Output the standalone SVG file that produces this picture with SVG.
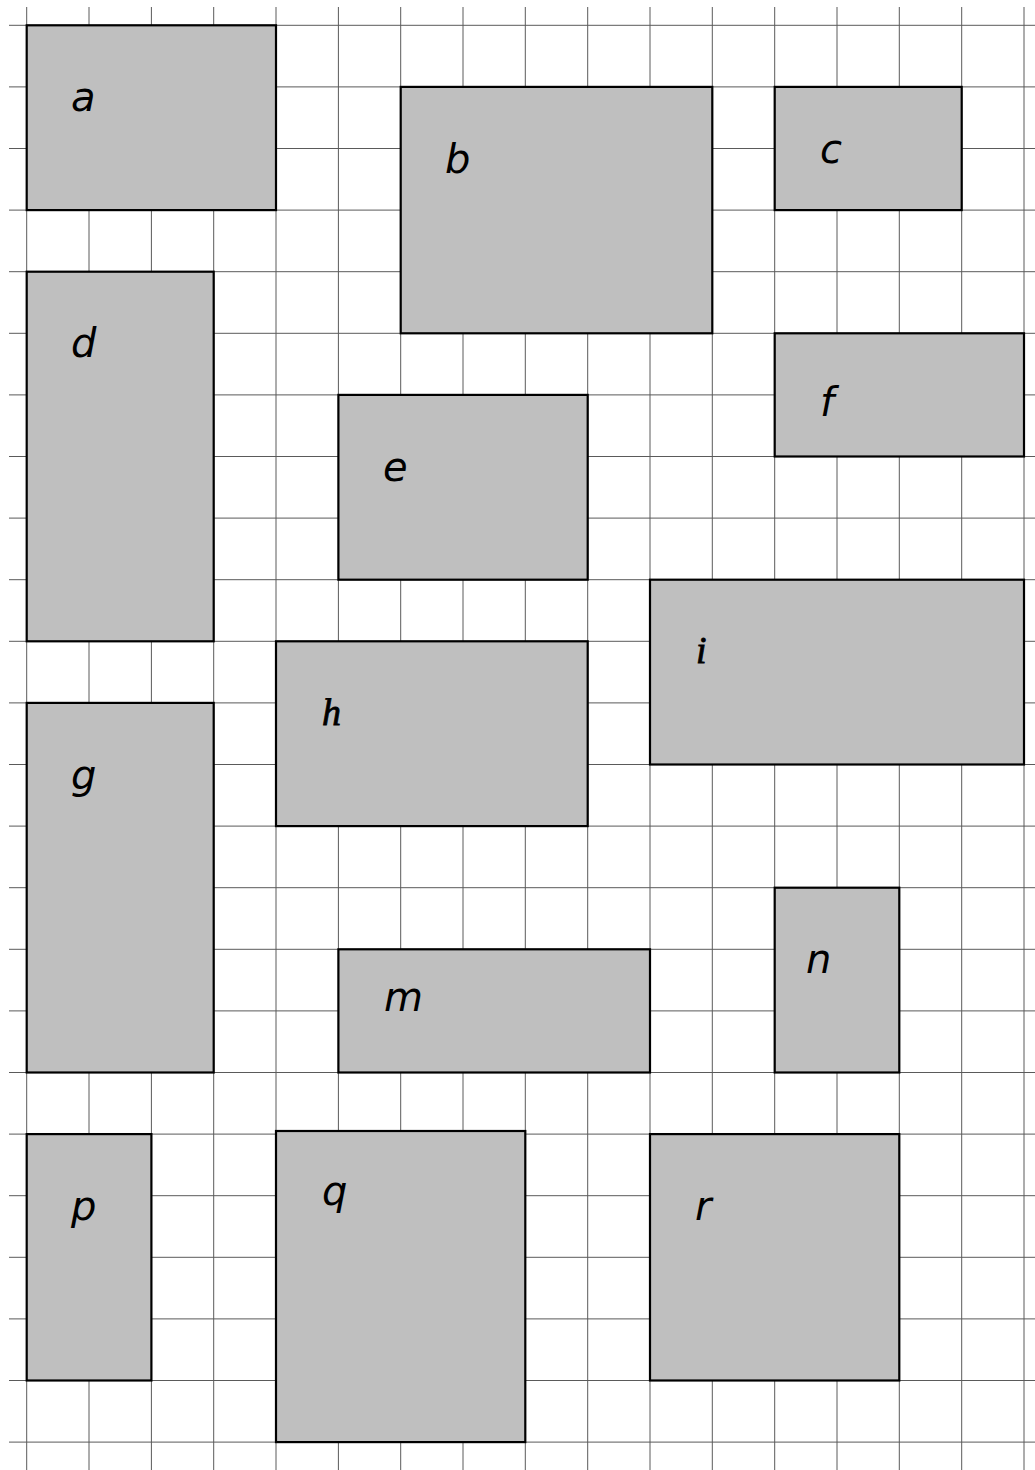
<svg xmlns="http://www.w3.org/2000/svg" width="1035" height="1470" viewBox="0 0 1035 1470">
<style>
.grid line{stroke:#5a5a5a;stroke-width:1}
.box{fill:#bfbfbf;stroke:#000;stroke-width:2.2}
.lab{font-family:"DejaVu Sans",sans-serif;font-style:italic;font-size:40px;fill:#000}
.labs{font-family:"Liberation Serif","DejaVu Serif",serif;font-style:italic;font-size:38px;fill:#000;stroke:#000;stroke-width:0.8}
</style>
<rect width="1035" height="1470" fill="#fff"/>
<g class="grid">
<line x1="26.7" y1="7" x2="26.7" y2="1470"/>
<line x1="89" y1="7" x2="89" y2="1470"/>
<line x1="151.4" y1="7" x2="151.4" y2="1470"/>
<line x1="213.7" y1="7" x2="213.7" y2="1470"/>
<line x1="276" y1="7" x2="276" y2="1470"/>
<line x1="338.4" y1="7" x2="338.4" y2="1470"/>
<line x1="400.7" y1="7" x2="400.7" y2="1470"/>
<line x1="463" y1="7" x2="463" y2="1470"/>
<line x1="525.3" y1="7" x2="525.3" y2="1470"/>
<line x1="587.7" y1="7" x2="587.7" y2="1470"/>
<line x1="650" y1="7" x2="650" y2="1470"/>
<line x1="712.3" y1="7" x2="712.3" y2="1470"/>
<line x1="774.7" y1="7" x2="774.7" y2="1470"/>
<line x1="837" y1="7" x2="837" y2="1470"/>
<line x1="899.3" y1="7" x2="899.3" y2="1470"/>
<line x1="961.7" y1="7" x2="961.7" y2="1470"/>
<line x1="1024" y1="7" x2="1024" y2="1470"/>
<line x1="9" y1="25.3" x2="1035" y2="25.3"/>
<line x1="9" y1="86.9" x2="1035" y2="86.9"/>
<line x1="9" y1="148.5" x2="1035" y2="148.5"/>
<line x1="9" y1="210.1" x2="1035" y2="210.1"/>
<line x1="9" y1="271.7" x2="1035" y2="271.7"/>
<line x1="9" y1="333.3" x2="1035" y2="333.3"/>
<line x1="9" y1="394.9" x2="1035" y2="394.9"/>
<line x1="9" y1="456.5" x2="1035" y2="456.5"/>
<line x1="9" y1="518.1" x2="1035" y2="518.1"/>
<line x1="9" y1="579.7" x2="1035" y2="579.7"/>
<line x1="9" y1="641.3" x2="1035" y2="641.3"/>
<line x1="9" y1="702.9" x2="1035" y2="702.9"/>
<line x1="9" y1="764.5" x2="1035" y2="764.5"/>
<line x1="9" y1="826.1" x2="1035" y2="826.1"/>
<line x1="9" y1="887.7" x2="1035" y2="887.7"/>
<line x1="9" y1="949.3" x2="1035" y2="949.3"/>
<line x1="9" y1="1010.9" x2="1035" y2="1010.9"/>
<line x1="9" y1="1072.5" x2="1035" y2="1072.5"/>
<line x1="9" y1="1134.1" x2="1035" y2="1134.1"/>
<line x1="9" y1="1195.7" x2="1035" y2="1195.7"/>
<line x1="9" y1="1257.3" x2="1035" y2="1257.3"/>
<line x1="9" y1="1318.9" x2="1035" y2="1318.9"/>
<line x1="9" y1="1380.5" x2="1035" y2="1380.5"/>
<line x1="9" y1="1442.1" x2="1035" y2="1442.1"/>
</g>
<g id="connectors"></g>
<g id="node-a"><rect class="box" x="26.7" y="25.3" width="249.3" height="184.8"/><text class="lab" x="71" y="111">a</text></g>
<g id="node-b"><rect class="box" x="400.7" y="86.9" width="311.6" height="246.4"/><text class="lab" x="445" y="173">b</text></g>
<g id="node-c"><rect class="box" x="774.7" y="86.9" width="187" height="123.2"/><text class="lab" x="820" y="163">c</text></g>
<g id="node-d"><rect class="box" x="26.7" y="271.7" width="187" height="369.6"/><text class="lab" x="71" y="357">d</text></g>
<g id="node-e"><rect class="box" x="338.4" y="394.9" width="249.3" height="184.8"/><text class="lab" x="383" y="481">e</text></g>
<g id="node-f"><rect class="box" x="774.7" y="333.3" width="249.3" height="123.2"/><text class="lab" x="820" y="416">f</text></g>
<g id="node-g"><rect class="box" x="26.7" y="702.9" width="187" height="369.6"/><text class="lab" x="71" y="789">g</text></g>
<g id="node-h"><rect class="box" x="276" y="641.3" width="311.7" height="184.8"/><text class="labs" x="322" y="725">h</text></g>
<g id="node-i"><rect class="box" x="650" y="579.7" width="374" height="184.8"/><text class="labs" x="696" y="663">i</text></g>
<g id="node-m"><rect class="box" x="338.4" y="949.3" width="311.6" height="123.2"/><text class="lab" x="384" y="1011">m</text></g>
<g id="node-n"><rect class="box" x="774.7" y="887.7" width="124.6" height="184.8"/><text class="lab" x="806" y="973">n</text></g>
<g id="node-p"><rect class="box" x="26.7" y="1134.1" width="124.7" height="246.4"/><text class="lab" x="71" y="1220">p</text></g>
<g id="node-q"><rect class="box" x="276" y="1131" width="249.3" height="311.1"/><text class="lab" x="322" y="1205">q</text></g>
<g id="node-r"><rect class="box" x="650" y="1134.1" width="249.3" height="246.4"/><text class="lab" x="695" y="1220">r</text></g>
</svg>
